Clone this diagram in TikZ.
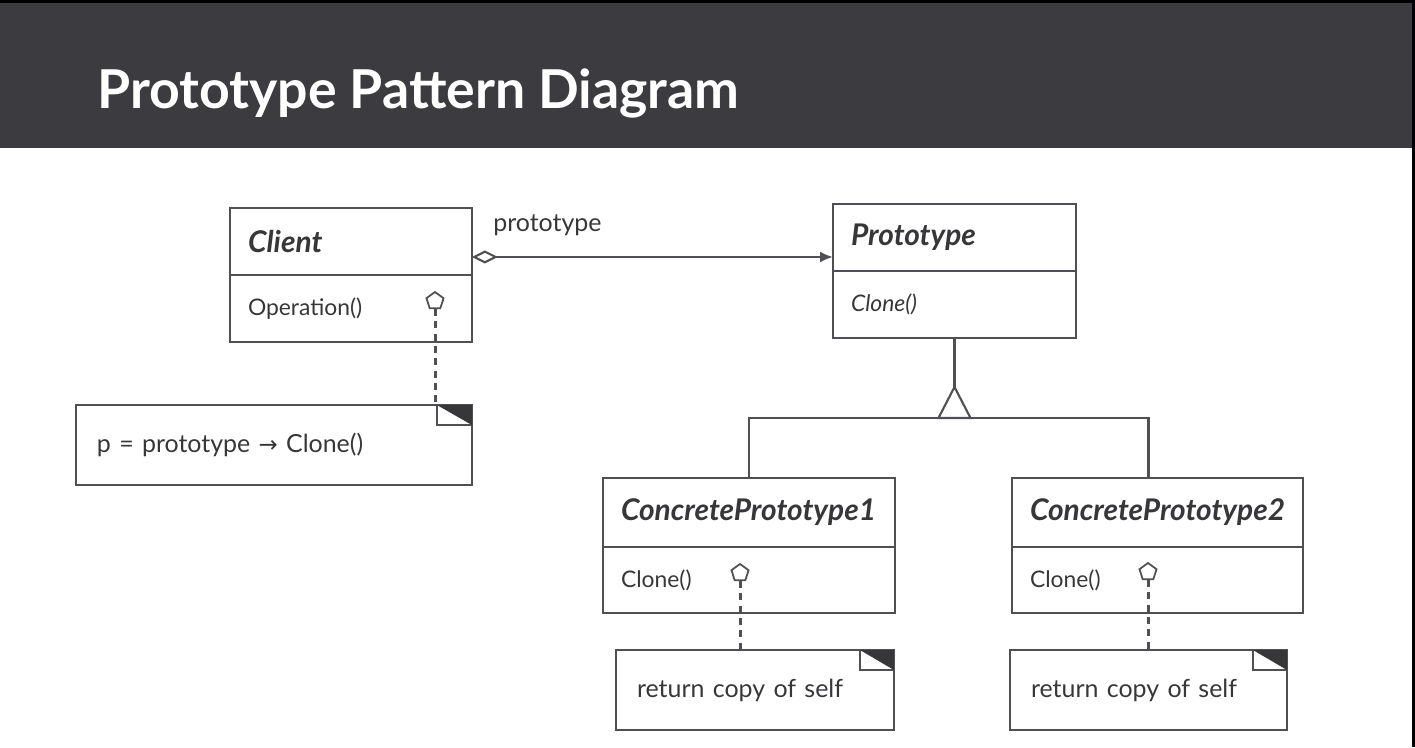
\documentclass[tikz,border=0pt]{standalone}
\usepackage{fontspec}
\setmainfont{Lato}
\newfontfamily\symfont{DejaVu Sans}
\usepackage{xcolor}
\usepackage{tikz}
\usetikzlibrary{positioning,arrows.meta,shapes.geometric}
\definecolor{hdrgray}{RGB}{59,59,64}
\definecolor{inkgray}{RGB}{55,55,58}
\definecolor{linegray}{RGB}{80,80,84}
\definecolor{foldgray}{RGB}{55,55,58}

\begin{document}
\begin{tikzpicture}[x=0.02cm, y=-0.02cm,
  clshead/.style={draw=linegray, line width=1.2pt, outer sep=0pt, anchor=north west, inner xsep=0.36cm, text width=#1, align=left, minimum height=1.34cm, text=inkgray, font=\bfseries\itshape\fontsize{17}{20}\selectfont},
  clsbody/.style={draw=linegray, line width=1.2pt, outer sep=0pt, inner xsep=0.36cm, text width=#1, align=left, minimum height=1.34cm, text=inkgray, font=\fontsize{13}{16}\selectfont},
  notebox/.style={draw=linegray, line width=1.2pt, outer sep=0pt, anchor=north west, inner xsep=0.42cm, text width=#1, align=left, minimum height=1.6cm, text=inkgray, font=\fontsize{14.2}{17}\selectfont},
  pentmark/.style={draw=linegray, line width=1pt, fill=white, regular polygon, regular polygon sides=5, minimum size=0.36cm, inner sep=0pt},
  noteline/.style={draw=linegray, line width=1.7pt, dash pattern=on 4pt off 3pt},
  umlline/.style={draw=linegray, line width=1.2pt},
  every node/.style={font=\fontsize{13}{16}\selectfont}
]
\useasboundingbox (0,0) rectangle (1415,747);

\fill[hdrgray] (0,0) rectangle (1415,148);
\fill[black] (0,0) rectangle (1415,3);
\fill[black] (1412,0) rectangle (1415,747);
\node[anchor=base west, inner sep=0pt, text=white, font=\bfseries\fontsize{30.5}{34}\selectfont] (title) at (97,108) {Prototype Pattern Diagram};

\node[clshead=4.12cm] (client) at (230,208) {Client};
\node[clsbody=4.12cm, below=0pt of client] (clientops) {Operation()};

\node[clshead=4.14cm] (proto) at (833,204) {Prototype};
\node[clsbody=4.14cm, below=0pt of proto, font=\itshape\fontsize{13}{16}\selectfont] (protoops) {Clone()};

\node[clshead=5.12cm, minimum height=1.38cm] (cp1) at (603,478) {ConcretePrototype1};
\node[clsbody=5.12cm, minimum height=1.32cm, below=0pt of cp1] (cp1ops) {Clone()};

\node[clshead=5.10cm, minimum height=1.38cm] (cp2) at (1012,478) {ConcretePrototype2};
\node[clsbody=5.10cm, minimum height=1.32cm, below=0pt of cp2] (cp2ops) {Clone()};

\node[notebox=7.08cm] (clientnote) at (76,405) {p = prototype {\symfont\fontsize{13}{16}\selectfont →} Clone()};
\node[notebox=4.72cm] (cp1note) at (616,650) {return copy of self};
\node[notebox=4.70cm] (cp2note) at (1010,650) {return copy of self};

\draw[umlline, fill=white] ([xshift=-0.7cm]clientnote.north east) rectangle ([yshift=-0.4cm]clientnote.north east);
\fill[foldgray] ([xshift=-0.7cm]clientnote.north east) -- (clientnote.north east) -- ([yshift=-0.4cm]clientnote.north east) -- cycle;
\draw[umlline, fill=white] ([xshift=-0.68cm]cp1note.north east) rectangle ([yshift=-0.4cm]cp1note.north east);
\fill[foldgray] ([xshift=-0.68cm]cp1note.north east) -- (cp1note.north east) -- ([yshift=-0.4cm]cp1note.north east) -- cycle;
\draw[umlline, fill=white] ([xshift=-0.68cm]cp2note.north east) rectangle ([yshift=-0.4cm]cp2note.north east);
\fill[foldgray] ([xshift=-0.68cm]cp2note.north east) -- (cp2note.north east) -- ([yshift=-0.4cm]cp2note.north east) -- cycle;

\node[pentmark] (clientpin) at (435,301) {};
\node[pentmark] (cp1pin) at (740,573) {};
\node[pentmark] (cp2pin) at (1148,572) {};
\draw[noteline] (clientpin.south) -- (clientpin.south |- clientnote.north);
\draw[noteline] (cp1pin.south) -- (cp1pin.south |- cp1note.north);
\draw[noteline] (cp2pin.south) -- (cp2pin.south |- cp2note.north);

\coordinate (aggstart) at ([yshift=-0.31cm]client.east);
\draw[umlline, {Diamond[open, length=0.52cm, width=0.26cm]}-{Latex[length=0.26cm, width=0.22cm]}] (aggstart) -- (aggstart -| proto.west);
\node[anchor=base west, inner sep=0pt, text=inkgray, font=\fontsize{14.2}{17}\selectfont] (rolelbl) at ([xshift=0.42cm, yshift=0.5cm]aggstart) {prototype};

\coordinate (apex) at ([yshift=-0.98cm]protoops.south);
\coordinate (fork) at ([yshift=-0.62cm]apex);
\coordinate (rdrop) at ([xshift=-0.18cm]cp2.north);
\draw[umlline] (cp1.north) |- (fork) -| (rdrop);
\draw[umlline] (protoops.south) -- (apex);
\draw[umlline, fill=white, line join=miter] (apex) -- ++(-16,31) -- ++(32,0) -- cycle;

\end{tikzpicture}
\end{document}
